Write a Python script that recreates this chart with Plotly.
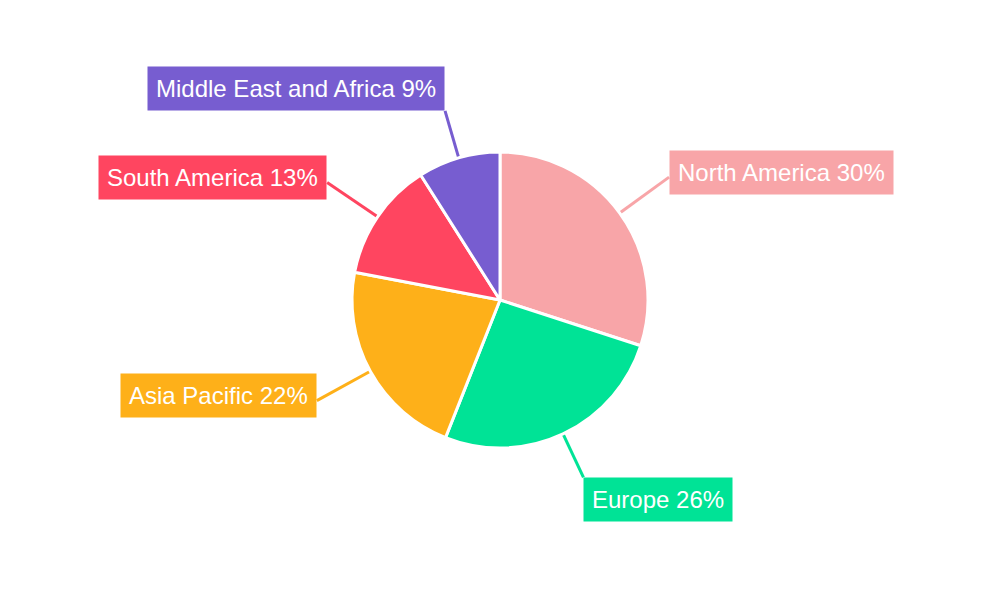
import math
import plotly.graph_objects as go

categories = ["North America", "Europe", "Asia Pacific", "South America", "Middle East and Africa"]
values = [30, 26, 22, 13, 9]
colors = ["#F8A5A8", "#00E396", "#FEB019", "#FF4560", "#775DD0"]

W, H = 1000, 600
CX, CY, R = 500, 300, 148

fig = go.Figure(go.Pie(
    labels=categories, values=values, sort=False, direction="clockwise", rotation=0,
    marker=dict(colors=colors, line=dict(color="white", width=3)),
    textinfo="none", hoverinfo="label+percent", showlegend=False,
    domain=dict(x=[(CX - R) / W, (CX + R) / W], y=[(H - CY - R) / H, (H - CY + R) / H]),
))

total = sum(values)
cum = 0
shapes, annotations = [], []
for cat, v, col in zip(categories, values, colors):
    mid = (cum + v / 2) / total * 2 * math.pi
    cum += v
    s, c = math.sin(mid), math.cos(mid)
    deg = math.degrees(mid)
    yshift = 0
    if deg < 30 or deg > 330:
        yanchor, r_end = "bottom", 197
    elif 150 < deg < 210:
        yanchor, r_end = "top", 196
    else:
        yanchor, r_end, yshift = "middle", 209, 5
    x0, y0 = CX + R * s, CY - R * c
    x1, y1 = CX + r_end * s, CY - r_end * c
    shapes.append(dict(type="line", xref="paper", yref="paper",
                       x0=x0 / W, y0=1 - y0 / H, x1=x1 / W, y1=1 - y1 / H,
                       line=dict(color=col, width=3), layer="below"))
    xanchor = "left" if s > 0 else "right"
    annotations.append(dict(
        xref="paper", yref="paper", x=x1 / W, y=1 - y1 / H,
        xanchor=xanchor, yanchor=yanchor, showarrow=False, yshift=yshift,
        text=f"{cat} {round(v / total * 100)}%",
        font=dict(family="Liberation Sans, Arial, sans-serif", size=24, color="white"),
        bgcolor=col, borderpad=8,
    ))

fig.update_layout(
    width=W, height=H, margin=dict(l=0, r=0, t=0, b=0),
    paper_bgcolor="white", plot_bgcolor="white",
    shapes=shapes, annotations=annotations,
)
fig.write_html("out.html", config={"displayModeBar": False},
               post_script="document.body.style.margin='0';")
